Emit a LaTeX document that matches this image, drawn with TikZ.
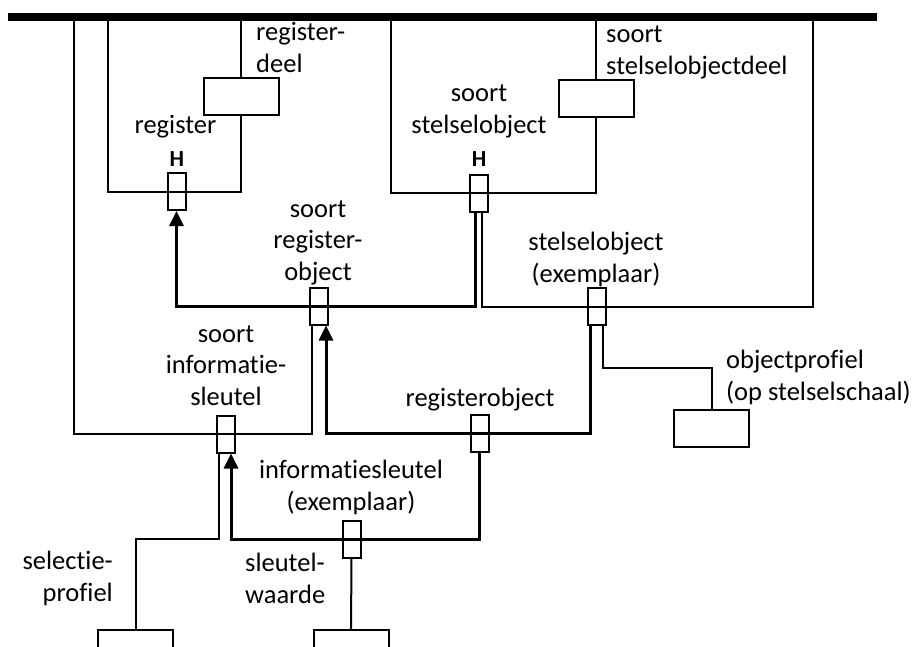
\documentclass[tikz,border=0pt]{standalone}
\usepackage{fontspec}
\setmainfont[Ligatures={NoCommon,NoDiscretionary,NoContextual}]{Carlito}
\usetikzlibrary{arrows.meta}
\begin{document}
\begin{tikzpicture}[x=1pt,y=-1pt,
  ln/.style={line width=2pt},
  arr/.style={line width=3pt, -{Triangle[width=14pt,length=15pt]}},
  jn/.style={draw, line width=2pt, minimum width=18pt, minimum height=37pt, inner sep=0pt},
  bx/.style={draw, fill=white, line width=2pt, minimum width=75pt, minimum height=37pt, inner sep=0pt},
  lbl/.style={font=\fontsize{26.5}{31.5}\selectfont, inner sep=0pt},
  hl/.style={font=\bfseries\fontsize{23}{26}\selectfont, inner sep=0pt}]
\useasboundingbox (0,0) rectangle (915,646);
\clip (0,0) rectangle (915,646);
% top bar
\coordinate (barL) at (8,17);
\coordinate (barR) at (877,17);
\draw[line width=8pt] (barL) -- (barR);
\coordinate (b1) at (74,17);
\coordinate (b2) at (108,17);
\coordinate (b3) at (391,17);
\coordinate (b4) at (813,17);
% nodes
\node[jn] (rH) at (176.5,191.5) {};
\node[bx] (rd) at (241,96) {};
\node[jn] (sH) at (479,193) {};
\node[bx] (sd) at (596,98) {};
\node[jn] (sro) at (318.5,306) {};
\node[jn] (so) at (596.5,306.5) {};
\node[jn] (sis) at (225.5,434) {};
\node[jn] (ro) at (479.5,433.5) {};
\node[bx] (op) at (711.5,428) {};
\node[jn] (ise) at (351.5,539) {};
\node[bx] (sp) at (135.5,648.5) {};
\node[bx] (sw) at (351,648.5) {};
% register frame
\draw[ln] (b2) |- (rd.south |- rH) -- (rd.south);
\draw[ln] (rd.north) -- (rd.north |- barL);
% soort stelselobject frame
\draw[ln] (b3) |- (sd.south |- sH) -- (sd.south);
\draw[ln] (sd.north) -- (sd.north |- barL);
% arrow 1
\draw[arr] ([xshift=-4pt]sH.south) |- (sro.center) -| (rH.south);
% stelselobject frame
\draw[ln] ([xshift=3pt]sH.south) |- (so.center) -| (b4);
% soort informatiesleutel frame
\draw[ln] (b1) |- (sis.center) -| ([xshift=-6.5pt]sro.south);
% arrow 2
\draw[arr] ([xshift=-6.5pt]so.south) |- (ro.center) -| ([xshift=7.5pt]sro.south);
% objectprofiel
\draw[ln] ([xshift=6.5pt]so.south) -- ++(0,42) -| (op.north);
% arrow 3
\draw[arr] (ro.south) |- (ise.center) -| ([xshift=5.5pt]sis.south);
% selectieprofiel
\draw[ln] ([xshift=-6.5pt]sis.south) -- ++(0,85) -| (sp.north);
% sleutelwaarde
\draw[ln] (ise.south) -- (sw.north);
% labels (base = baseline of last line)
\node[lbl, anchor=base west, align=left] (t1) at (256,72) {register-\\deel};
\node[lbl, anchor=base] (t2) at (175.5,133) {register};
\node[hl, anchor=base] (h1) at (177,166) {H};
\node[lbl, anchor=base, align=center] (t3) at (479,133) {soort\\stelselobject};
\node[hl, anchor=base] (h2) at (479,166) {H};
\node[lbl, anchor=base west, align=left] (t4) at (606,74) {soort\\stelselobjectdeel};
\node[lbl, anchor=base, align=center] (t5) at (318,280) {soort\\register-\\object};
\node[lbl, anchor=base, align=center] (t6) at (596,282) {stelselobject\\(exemplaar)};
\node[lbl, anchor=base, align=center] (t7) at (226,405) {soort\\informatie-\\sleutel};
\node[lbl, anchor=base] (t8) at (480,406) {registerobject};
\node[lbl, anchor=base west, align=left] (t9) at (726,400) {objectprofiel\\(op stelselschaal)};
\node[lbl, anchor=base, align=center] (t10) at (351,510) {informatiesleutel\\(exemplaar)};
\node[lbl, anchor=base west, align=left] (t11) at (245,603) {sleutel-\\waarde};
\node[lbl, anchor=base east, align=right] (t12) at (113,601) {selectie-\\profiel};
\end{tikzpicture}
\end{document}
